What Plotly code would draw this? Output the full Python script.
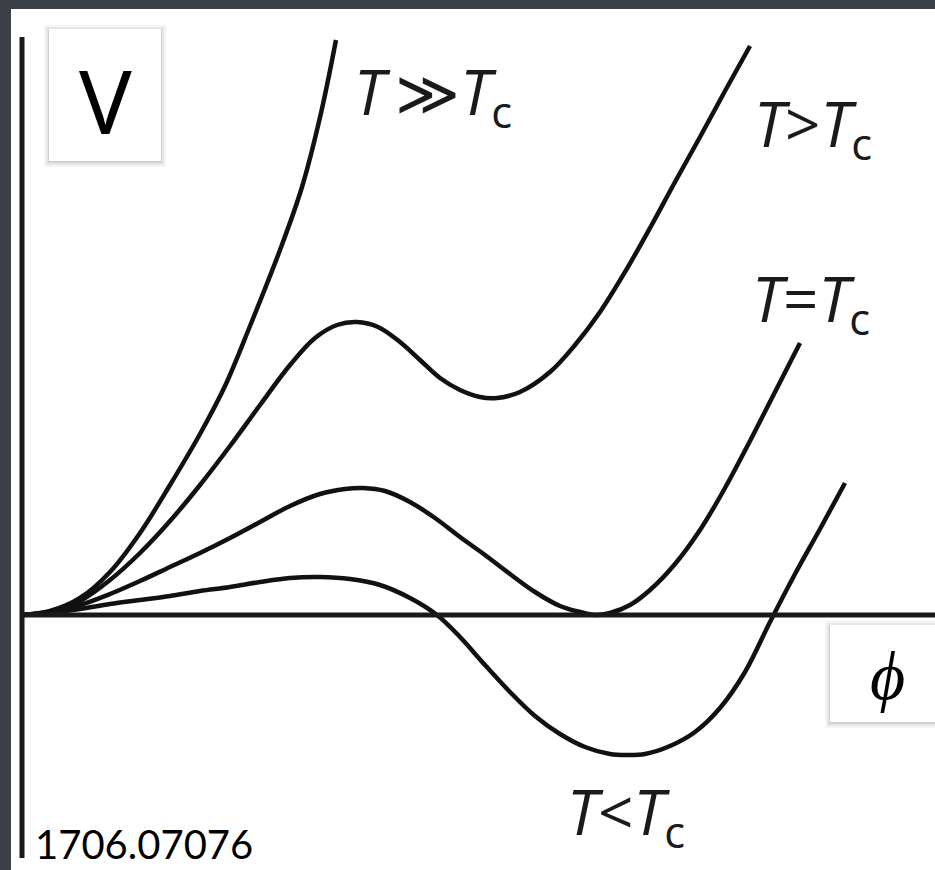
import plotly.graph_objects as go

# Field values (phi) and potential values (V) for each temperature
phi_hot = [0, 0.28, 0.58, 0.88, 1.18, 1.48, 1.78, 2.03, 2.28, 2.58, 2.80, 2.99, 3.14]
V_hot = [0, 0.04, 0.17, 0.43, 0.82, 1.30, 1.81, 2.29, 2.89, 3.65, 4.28, 5.02, 5.75]

phi_above = [0, 0.28, 0.58, 0.88, 1.18, 1.48, 1.78, 2.08, 2.38, 2.68,
             2.93, 3.15, 3.35, 3.56, 3.78, 3.98, 4.18, 4.38, 4.58, 4.75,
             4.98, 5.28, 5.53, 5.78, 6.03, 6.28, 6.53, 6.78, 7.03, 7.28]
V_above = [0, 0.03, 0.14, 0.35, 0.62, 0.94, 1.30, 1.69, 2.10, 2.50,
           2.77, 2.90, 2.93, 2.88, 2.73, 2.55, 2.37, 2.25, 2.18, 2.17,
           2.23, 2.43, 2.70, 3.03, 3.43, 3.87, 4.33, 4.78, 5.24, 5.69]

phi_crit = [0, 0.28, 0.58, 0.88, 1.18, 1.48, 1.78, 2.08, 2.38, 2.68,
            2.98, 3.23, 3.41, 3.63, 3.88, 4.13, 4.38, 4.63, 4.88, 5.13,
            5.38, 5.58, 5.73, 5.88, 6.08, 6.28, 6.53, 6.78, 7.03, 7.28, 7.53, 7.78]
V_crit = [0, 0.03, 0.10, 0.21, 0.34, 0.48, 0.62, 0.77, 0.93, 1.09,
          1.21, 1.26, 1.27, 1.24, 1.13, 0.97, 0.78, 0.60, 0.41, 0.23,
          0.09, 0.03, 0, 0.02, 0.10, 0.25, 0.51, 0.85, 1.27, 1.74, 2.23, 2.72]

phi_below = [0, 0.28, 0.58, 0.88, 1.18, 1.48, 1.78, 2.08, 2.38, 2.68,
             2.98, 3.28, 3.58, 3.88, 4.15, 4.38, 4.63, 4.88, 5.13, 5.38,
             5.63, 5.88, 6.05, 6.23, 6.48, 6.73, 6.98, 7.23, 7.48, 7.73, 7.98, 8.23]
V_below = [0, 0.02, 0.06, 0.11, 0.15, 0.19, 0.24, 0.28, 0.33, 0.37,
           0.38, 0.36, 0.30, 0.17, 0, -0.22, -0.50, -0.77, -1.01, -1.19,
           -1.32, -1.39, -1.40, -1.39, -1.31, -1.17, -0.93, -0.57, -0.07, 0.41, 0.86, 1.32]

curve_labels = ["<i>T</i>\u2009≫<i>T</i><sub>c</sub>", "<i>T</i>><i>T</i><sub>c</sub>",
                "<i>T</i>=<i>T</i><sub>c</sub>", "<i>T</i><<i>T</i><sub>c</sub>"]

W, H = 935, 870
X_RANGE = [-0.22, 9.13]
Y_RANGE = [-2.55, 6.15]

INK = "#111111"
fig = go.Figure()
for xs, ys in [(phi_hot, V_hot), (phi_above, V_above), (phi_crit, V_crit), (phi_below, V_below)]:
    fig.add_trace(go.Scatter(x=xs, y=ys, mode="lines",
                             line=dict(color=INK, width=4.5, shape="spline", smoothing=1.0),
                             hoverinfo="skip", showlegend=False))


def px(x):
    return x / W


def py(y):
    return 1 - y / H


shapes = []
# white slide panel
shapes.append(dict(type="rect", xref="paper", yref="paper", x0=px(11), x1=1.0, y0=0, y1=py(9),
                   fillcolor="white", line_width=0, layer="below"))
# axes
shapes.append(dict(type="line", xref="x", yref="y", x0=0, x1=0, y0=5.78, y1=-2.43,
                   line=dict(color="#1a1a1a", width=5)))
shapes.append(dict(type="line", xref="x", yref="y", x0=0, x1=9.2, y0=0, y1=0,
                   line=dict(color="#1a1a1a", width=5)))


def boxed(x0, y0, x1, y1):
    # soft drop shadow, then the white box
    for i, op in enumerate([0.04, 0.06, 0.09]):
        d = 5 - 2 * i
        shapes.append(dict(type="rect", xref="paper", yref="paper",
                           x0=px(x0 - d), x1=px(x1 + d), y0=py(y1 + d + 1), y1=py(y0 - d + 1),
                           fillcolor="black", opacity=op, line_width=0))
    shapes.append(dict(type="rect", xref="paper", yref="paper",
                       x0=px(x0), x1=px(x1), y0=py(y1), y1=py(y0),
                       fillcolor="white", line_width=0))


boxed(49, 29, 161, 161)
boxed(830, 625, 940, 722)

annotations = []
annotations.append(dict(xref="paper", yref="paper", x=px(105), y=py(100), text="V",
                        showarrow=False, xanchor="center", yanchor="middle",
                        font=dict(family="Noto Sans", size=88, color="black")))
annotations.append(dict(xref="paper", yref="paper", x=px(887), y=py(676), text="<i>ϕ</i>",
                        showarrow=False, xanchor="center", yanchor="middle",
                        font=dict(family="Liberation Serif, DejaVu Serif", size=68, color="black")))
annotations.append(dict(xref="paper", yref="paper", x=px(33), y=0, text="1706.07076",
                        showarrow=False, xanchor="left", yanchor="bottom",
                        font=dict(family="Lato", size=40, color="black")))

label_pos = [(352, 95), (752, 127), (750, 302), (565, 815)]
for txt, (lx, ly) in zip(curve_labels, label_pos):
    annotations.append(dict(xref="paper", yref="paper", x=px(lx), y=py(ly), text=txt,
                            showarrow=False, xanchor="left", yanchor="middle",
                            font=dict(family="Open Sans", size=62, color="#1a1a1a")))

fig.update_layout(
    width=W, height=H, margin=dict(l=0, r=0, t=0, b=0),
    paper_bgcolor="#3c4049", plot_bgcolor="rgba(0,0,0,0)",
    xaxis=dict(range=X_RANGE, visible=False, fixedrange=True),
    yaxis=dict(range=Y_RANGE, visible=False, fixedrange=True),
    shapes=shapes, annotations=annotations,
)

fig.write_html("out.html")
